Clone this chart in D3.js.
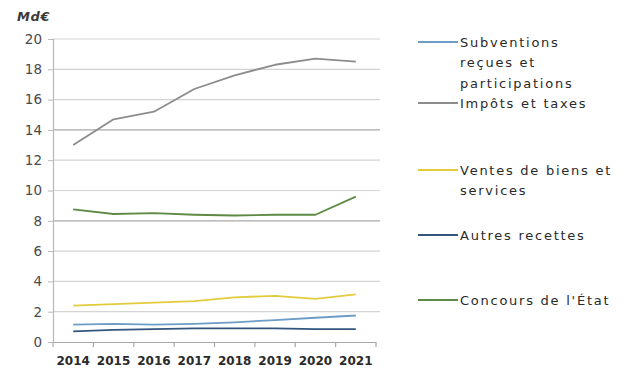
<!DOCTYPE html>
<html>
<head>
<meta charset="utf-8">
<script src="https://cdn.jsdelivr.net/npm/d3@7"></script>
<style>
  html, body { margin: 0; padding: 0; background: #fff; }
  svg { display: block; }
</style>
</head>
<body>
<svg id="chart" width="630" height="370"></svg>
<script>
// Recettes de fonctionnement, en milliards d'euros
const years = ["2014", "2015", "2016", "2017", "2018", "2019", "2020", "2021"];
const subventions = [1.15, 1.2, 1.15, 1.2, 1.3, 1.45, 1.6, 1.75];
const impots = [13.0, 14.7, 15.2, 16.7, 17.6, 18.3, 18.7, 18.5];
const ventes = [2.4, 2.5, 2.6, 2.7, 2.95, 3.05, 2.85, 3.15];
const autres = [0.7, 0.8, 0.85, 0.9, 0.9, 0.9, 0.85, 0.85];
const concours = [8.75, 8.45, 8.5, 8.4, 8.35, 8.4, 8.4, 9.6];
const yTicks = [0, 2, 4, 6, 8, 10, 12, 14, 16, 18, 20];
const unit = "Md€";

const series = [
  { name: ["Subventions", "reçues et", "participations"], values: subventions, color: "#6d9cc6", ly: 42 },
  { name: ["Impôts et taxes"], values: impots, color: "#8c8c8c", ly: 103 },
  { name: ["Ventes de biens et", "services"], values: ventes, color: "#e2cc3c", ly: 170 },
  { name: ["Autres recettes"], values: autres, color: "#34567e", ly: 235 },
  { name: ["Concours de l'État"], values: concours, color: "#5e8a45", ly: 300 }
];

const svg = d3.select("#chart");
const font = "'DejaVu Sans', sans-serif";

const x = d3.scaleBand().domain(years).range([53, 376]);
const y = d3.scaleLinear().domain([0, 20]).range([342, 39]);

// horizontal grid
svg.append("g")
  .selectAll("line")
  .data(yTicks.filter(d => d > 0))
  .join("line")
  .attr("x1", 53).attr("x2", 380)
  .attr("y1", d => y(d)).attr("y2", d => y(d))
  .attr("stroke", d => (d === 8 || d === 14) ? "#a8a8a8" : "#d4d4d4")
  .attr("stroke-width", 1.2);

// y axis
const yAxis = svg.append("g")
  .attr("transform", "translate(53,0)")
  .call(d3.axisLeft(y).tickValues(yTicks).tickSize(5).tickPadding(6));
yAxis.select(".domain").attr("stroke", "#b8b8b8").attr("stroke-width", 1.2);
yAxis.selectAll(".tick line").attr("stroke", "#b8b8b8");
yAxis.selectAll("text")
  .attr("font-family", font).attr("font-size", 13.5)
  .attr("fill", "#4a4a4a");

// x axis with ticks at category boundaries
const xAxis = svg.append("g")
  .attr("transform", "translate(0,342)")
  .call(d3.axisBottom(x).tickSize(0).tickPadding(14));
xAxis.select(".domain").attr("stroke", "#a8a8a8").attr("stroke-width", 1.2);
xAxis.selectAll("text")
  .attr("font-family", font).attr("font-size", 12).attr("font-weight", "bold")
  .attr("fill", "#2a2a2a");
xAxis.selectAll(".boundary")
  .data(years.map(d => x(d) + x.bandwidth()).concat([x(years[0])]))
  .join("line")
  .attr("class", "boundary")
  .attr("x1", d => d).attr("x2", d => d)
  .attr("y1", 0).attr("y2", 5)
  .attr("stroke", "#a8a8a8").attr("stroke-width", 1.2);

// unit label
svg.append("text")
  .attr("x", 17).attr("y", 21)
  .attr("font-family", font).attr("font-size", 13)
  .attr("font-style", "italic").attr("font-weight", "bold")
  .attr("letter-spacing", 0.6).attr("fill", "#3a3a3a")
  .text(unit);

// series lines
const line = d3.line()
  .x((d, i) => x(years[i]) + x.bandwidth() / 2)
  .y(d => y(d));

svg.append("g")
  .selectAll("path")
  .data(series)
  .join("path")
  .attr("d", s => line(s.values))
  .attr("fill", "none")
  .attr("stroke", s => s.color)
  .attr("stroke-width", 1.8)
  .attr("stroke-linejoin", "round");

// legend
const legend = svg.append("g");
series.forEach(s => {
  legend.append("line")
    .attr("x1", 418).attr("x2", 458)
    .attr("y1", s.ly).attr("y2", s.ly)
    .attr("stroke", s.color).attr("stroke-width", 2);
  const t = legend.append("text")
    .attr("font-family", font).attr("font-size", 13)
    .attr("letter-spacing", 1.75)
    .attr("fill", "#2a2a2a");
  s.name.forEach((ln, i) => {
    t.append("tspan")
      .attr("x", 460).attr("y", s.ly + i * 20.5)
      .attr("dy", "0.35em")
      .text(ln);
  });
});
</script>
</body>
</html>
